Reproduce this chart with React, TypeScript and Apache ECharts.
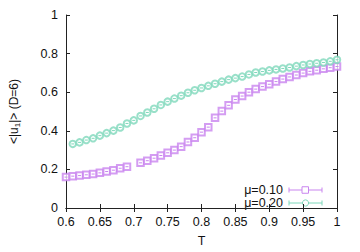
import React, { useEffect, useRef } from "react";
import * as echarts from "echarts";

const T1 = [0.60,0.61,0.62,0.63,0.64,0.65,0.66,0.67,0.68,0.69,0.71,0.72,0.73,0.74,0.75,0.76,0.77,0.78,0.79,0.80,0.81,0.82,0.83,0.84,0.85,0.86,0.87,0.88,0.89,0.90,0.91,0.92,0.93,0.94,0.95,0.96,0.97,0.98,0.99,1.00];
const U1 = [0.160,0.165,0.168,0.172,0.176,0.182,0.189,0.196,0.206,0.214,0.234,0.245,0.258,0.272,0.286,0.300,0.318,0.342,0.364,0.393,0.419,0.467,0.502,0.532,0.562,0.580,0.600,0.616,0.629,0.641,0.655,0.668,0.679,0.689,0.699,0.708,0.714,0.721,0.727,0.733];
const T2 = [0.61,0.62,0.63,0.64,0.65,0.66,0.67,0.68,0.69,0.70,0.71,0.72,0.73,0.74,0.75,0.76,0.77,0.78,0.79,0.80,0.81,0.82,0.83,0.84,0.85,0.86,0.87,0.88,0.89,0.90,0.91,0.92,0.93,0.94,0.95,0.96,0.97,0.98,0.99,1.00];
const U2 = [0.332,0.340,0.352,0.361,0.375,0.388,0.401,0.417,0.438,0.454,0.477,0.495,0.514,0.534,0.551,0.567,0.582,0.597,0.610,0.622,0.633,0.644,0.655,0.665,0.673,0.681,0.692,0.702,0.707,0.713,0.718,0.723,0.728,0.735,0.741,0.746,0.750,0.754,0.760,0.768];
const NAMES = ["μ=0.10", "μ=0.20"];
const COLORS = ["#c985ef", "#7fd8bb"];

const FONT = "Liberation Sans";

export default function App() {
  const ref = useRef<HTMLDivElement>(null);
  useEffect(() => {
    const chart = echarts.init(ref.current!, null, { renderer: "svg" });
    const d1 = T1.map((t, i) => [t, U1[i]]);
    const d2 = T2.map((t, i) => [t, U2[i]]);
    const fmt = (v: number) => String(+v.toFixed(2));
    const axisLine = { show: true, lineStyle: { color: "#222", width: 1 } };
    const tick = { show: true, inside: true, length: 4, lineStyle: { color: "#222" } };
    const dash = (color: string) => ({
      type: "custom",
      silent: true,
      renderItem: (params: any, api: any) => {
        const p = api.coord([api.value(0), api.value(1)]);
        return {
          type: "line",
          shape: { x1: p[0] - 1.5, y1: p[1], x2: p[0] + 1.5, y2: p[1] },
          style: { stroke: color, lineWidth: 1 },
        };
      },
      z: 3,
    });
    chart.setOption({
      animation: false,
      backgroundColor: "#fff",
      textStyle: { fontFamily: FONT },
      grid: { left: 61, right: 23, top: 15, bottom: 41, containLabel: false },
      xAxis: [
        {
          type: "value", min: 0.6, max: 1, interval: 0.05,
          axisLine, axisTick: tick, splitLine: { show: false },
          axisLabel: { formatter: fmt, color: "#111", fontSize: 12.5, margin: 7, fontFamily: FONT },
          name: "T", nameLocation: "middle", nameGap: 26,
          nameTextStyle: { color: "#111", fontSize: 12.5, fontFamily: FONT },
        },
        {
          type: "value", position: "top", min: 0.6, max: 1, interval: 0.05,
          axisLine, axisTick: tick, splitLine: { show: false }, axisLabel: { show: false },
        },
      ],
      yAxis: [
        {
          type: "value", min: 0, max: 1, interval: 0.2,
          axisLine, axisTick: tick, splitLine: { show: false },
          axisLabel: { formatter: fmt, color: "#111", fontSize: 12.5, margin: 8, fontFamily: FONT },
          name: "<|u{sub|1}|> (D=6)", nameLocation: "middle", nameGap: 45, nameRotate: 90,
          nameTextStyle: {
            color: "#111", fontSize: 12, fontFamily: FONT,
            rich: { sub: { fontSize: 8, fontFamily: FONT, color: "#111", verticalAlign: "bottom", padding: [6, 0, 0, 0] } },
          },
        },
        {
          type: "value", position: "right", min: 0, max: 1, interval: 0.2,
          axisLine, axisTick: tick, splitLine: { show: false }, axisLabel: { show: false },
        },
      ],
      series: [
        {
          name: NAMES[0], type: "scatter", data: d1, symbol: "emptyRect", symbolSize: 6.5,
          itemStyle: { color: COLORS[0], borderColor: COLORS[0], borderWidth: 1 },
        },
        { ...dash(COLORS[0]), data: d1 },
        {
          name: NAMES[1], type: "scatter", data: d2, symbol: "emptyCircle", symbolSize: 6.5,
          itemStyle: { color: COLORS[1], borderColor: COLORS[1], borderWidth: 1 },
        },
        { ...dash(COLORS[1]), data: d2 },
      ],
      graphic: NAMES.flatMap((n, i) => {
        const y = 190 + i * 13;
        const c = COLORS[i];
        const items: any[] = [
          { type: "text", x: 283, y, style: { text: n, fill: "#111", font: `12.5px '${FONT}'`, align: "right", verticalAlign: "middle" } },
          { type: "line", shape: { x1: 289, y1: y, x2: 322, y2: y }, style: { stroke: c, lineWidth: 1 } },
          { type: "line", shape: { x1: 289, y1: y - 2.5, x2: 289, y2: y + 2.5 }, style: { stroke: c, lineWidth: 1 } },
          { type: "line", shape: { x1: 322, y1: y - 2.5, x2: 322, y2: y + 2.5 }, style: { stroke: c, lineWidth: 1 } },
        ];
        if (i === 0) items.push({ type: "rect", shape: { x: 302, y: y - 3.25, width: 6.5, height: 6.5 }, style: { fill: "#fff", stroke: c, lineWidth: 1 } });
        else items.push({ type: "circle", shape: { cx: 305.5, cy: y, r: 3.1 }, style: { fill: "#fff", stroke: c, lineWidth: 1 } });
        return items;
      }),
    });
    return () => chart.dispose();
  }, []);
  return <div ref={ref} style={{ width: 360, height: 252, position: "absolute", left: 0, top: 0 }} />;
}
